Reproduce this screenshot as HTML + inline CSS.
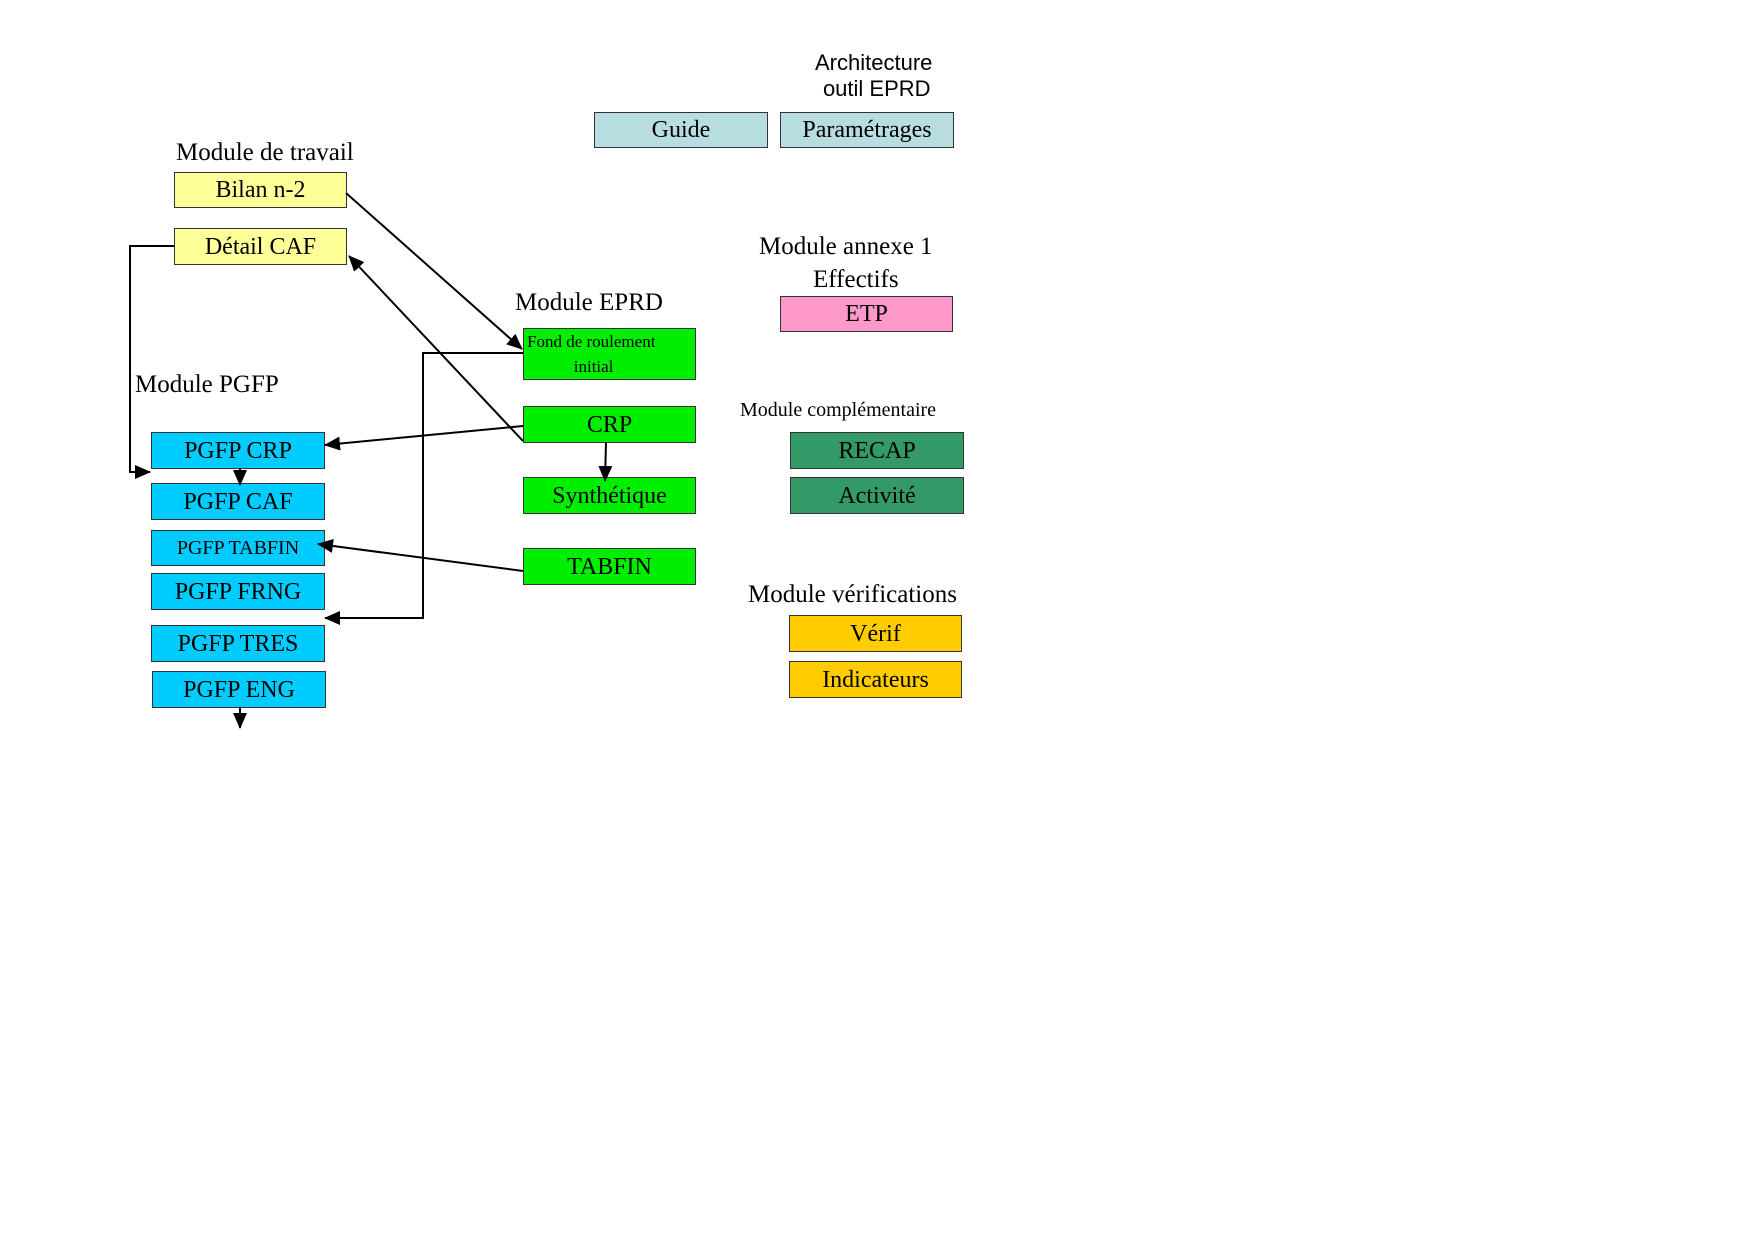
<!DOCTYPE html>
<html><head><meta charset="utf-8"><style>
body{margin:0;background:#fff;}
#o{position:relative;width:1754px;height:1241px;overflow:hidden;}
#c{position:absolute;left:-3px;top:0;width:1754px;height:1241px;font-family:"Liberation Serif",serif;}
.b{position:absolute;box-sizing:border-box;border:1px solid #333;text-align:center;font-size:24px;color:#000;display:flex;align-items:center;justify-content:center;line-height:1;}
.t{position:absolute;font-size:25px;white-space:nowrap;color:#000;}
.cy{background:#00ccff}.g{background:#00ee00}.y{background:#ffff99}.lb{background:#b7dde0}.dg{background:#339966}.o{background:#ffcc00}.p{background:#ff99cc}
svg{position:absolute;left:0;top:0}
</style></head><body><div id="o"><div id="c">
<div class="t" style="left:818px;top:50px;font-family:'Liberation Sans',sans-serif;font-size:22px;text-align:center;line-height:26px">Architecture<br>&nbsp;outil EPRD</div>
<div class="b lb" style="left:597px;top:112px;width:174px;height:36px">Guide</div>
<div class="b lb" style="left:783px;top:112px;width:174px;height:36px">Paramétrages</div>
<div class="t" style="left:179px;top:139px">Module de travail</div>
<div class="b y" style="left:177px;top:172px;width:173px;height:36px">Bilan n-2</div>
<div class="b y" style="left:177px;top:228px;width:173px;height:37px">Détail CAF</div>
<div class="t" style="left:762px;top:233px">Module annexe 1</div>
<div class="t" style="left:816px;top:266px">Effectifs</div>
<div class="b p" style="left:783px;top:296px;width:173px;height:36px">ETP</div>
<div class="t" style="left:518px;top:289px">Module EPRD</div>
<div class="b g" style="left:526px;top:328px;width:173px;height:52px;font-size:17px;line-height:25px;display:block;text-align:left;padding-left:3px">Fond de roulement<br>&nbsp;&nbsp;&nbsp;&nbsp;&nbsp;&nbsp;&nbsp;&nbsp;&nbsp;&nbsp;&nbsp;initial</div>
<div class="b g" style="left:526px;top:406px;width:173px;height:37px">CRP</div>
<div class="b g" style="left:526px;top:477px;width:173px;height:37px">Synthétique</div>
<div class="b g" style="left:526px;top:548px;width:173px;height:37px">TABFIN</div>
<div class="t" style="left:138px;top:371px">Module PGFP</div>
<div class="b cy" style="left:154px;top:432px;width:174px;height:37px">PGFP CRP</div>
<div class="b cy" style="left:154px;top:483px;width:174px;height:37px">PGFP CAF</div>
<div class="b cy" style="left:154px;top:530px;width:174px;height:36px;font-size:20px">PGFP TABFIN</div>
<div class="b cy" style="left:154px;top:573px;width:174px;height:37px">PGFP FRNG</div>
<div class="b cy" style="left:154px;top:625px;width:174px;height:37px">PGFP TRES</div>
<div class="b cy" style="left:155px;top:671px;width:174px;height:37px">PGFP ENG</div>
<div class="t" style="left:743px;top:399px;font-size:20px">Module complémentaire</div>
<div class="b dg" style="left:793px;top:432px;width:174px;height:37px">RECAP</div>
<div class="b dg" style="left:793px;top:477px;width:174px;height:37px">Activité</div>
<div class="t" style="left:751px;top:581px">Module vérifications</div>
<div class="b o" style="left:792px;top:615px;width:173px;height:37px">Vérif</div>
<div class="b o" style="left:792px;top:661px;width:173px;height:37px">Indicateurs</div>
<svg width="1754" height="1241">
<defs><marker id="m" markerWidth="16" markerHeight="14" refX="15" refY="7" orient="auto" markerUnits="userSpaceOnUse"><path d="M0,0L16,7L0,14z" fill="#000"/></marker></defs>
<g stroke="#000" stroke-width="2" fill="none">
<line x1="349" y1="193" x2="525" y2="349" marker-end="url(#m)"/>
<line x1="526" y1="441" x2="352" y2="256" marker-end="url(#m)"/>
<polyline points="177,246 133,246 133,472 153,472" marker-end="url(#m)"/>
<line x1="526" y1="426" x2="328" y2="445" marker-end="url(#m)"/>
<line x1="609" y1="442" x2="608" y2="481" marker-end="url(#m)"/>
<line x1="243" y1="468" x2="243" y2="485" marker-end="url(#m)"/>
<line x1="526" y1="571" x2="321" y2="544" marker-end="url(#m)"/>
<polyline points="526,353 426,353 426,618 328,618" marker-end="url(#m)"/>
<line x1="243" y1="707" x2="243" y2="728" marker-end="url(#m)"/>
</g></svg>
</div></div></body></html>
